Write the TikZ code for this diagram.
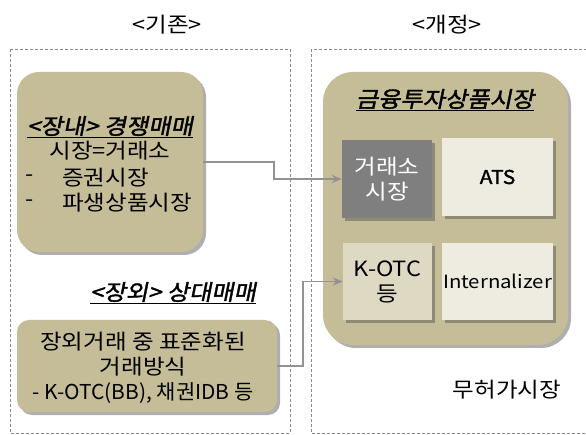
\documentclass[tikz,border=0pt]{standalone}
\usepackage{fontspec}
\setmainfont{Noto Sans CJK KR}[FakeStretch=1.12]
\newfontfamily\krslant{Noto Sans CJK KR}[FakeStretch=1.1,FakeSlant=0.2,FakeBold=1.6]
\newfontfamily\krbold{Noto Sans CJK KR}[FakeStretch=1.1,FakeBold=1.8]
\newfontfamily\krnarrow{Noto Sans CJK KR}[FakeStretch=1.02]
\usetikzlibrary{arrows.meta,shadows}
\definecolor{khaki}{HTML}{C4BD97}
\definecolor{pale}{HTML}{EEECE1}
\definecolor{mid}{HTML}{DDD9C3}
\definecolor{darkbox}{HTML}{7F7F7F}
\definecolor{frameline}{HTML}{8A8A8A}
\definecolor{conn}{HTML}{929292}
\tikzset{
  frame/.style={draw=frameline,dashed,dash pattern=on 3pt off 2pt,line width=0.8pt},
  shad/.style={drop shadow={shadow xshift=3pt,shadow yshift=-3pt,opacity=0.45,fill=black!70}},
  khakibox/.style={fill=khaki,shad,inner sep=0pt},
  inbox/.style={inner sep=0pt,align=center,shad,font=\fontsize{21}{25}\selectfont},
  txt/.style={inner sep=0pt,font=\fontsize{21}{25}\selectfont},
  headtxt/.style={inner sep=0pt,font=\fontsize{22}{25}\krslant},
  conline/.style={draw=conn,line width=1.6pt,-{Stealth[length=10pt,width=8pt]}}
}
\begin{document}
\begin{tikzpicture}[x=1pt,y=-1pt]
\clip (0,0) rectangle (586,435);
\fill[white] (0,0) rectangle (586,435);
% titles
\node[txt] (t1) at (167,25) {<기존>};
\node[txt] (t2) at (447,25) {<개정>};
% frames
\draw[frame] (10,49) rectangle (290,433);
\draw[frame] (311,49) rectangle (600,433);
% left boxes
\node[khakibox,rounded corners=22pt,minimum width=186pt,minimum height=180pt] (b1) at (110,162) {};
\node[headtxt] (b1h) at (110,127) {\underline{<장내> 경쟁매매}};
\node[txt] (b1a) at (110,151) {시장=거래소};
\node[txt] (b1d1) at (30,178) {-};
\node[txt,anchor=west] (b1b) at (62,178) {증권시장};
\node[txt] (b1d2) at (30,203) {-};
\node[txt,anchor=west] (b1c) at (62,203) {파생상품시장};
\node[headtxt] (l2) at (173,293) {\underline{<장외> 상대매매}};
\node[khakibox,rounded corners=12pt,minimum width=260pt,minimum height=92pt] (b2) at (147,366) {};
\node[txt,align=center] (b2t) at (143,368) {장외거래 중 표준화된\\거래방식\\{\krnarrow\fontsize{20.5}{25}\selectfont - K-OTC(BB), 채권IDB 등}};
% right big box
\node[khakibox,rounded corners=30pt,minimum width=245pt,minimum height=273pt] (big) at (445.5,208.5) {};
\node[headtxt] (bigt) at (445,100) {\underline{금융투자상품시장}};
\node[inbox,fill=darkbox,text=white,minimum width=90pt,minimum height=78pt] (ex) at (387,179) {거래소\\시장};
\node[inbox,fill=pale,minimum width=111pt,minimum height=78pt,font=\fontsize{19}{24}\krbold] (ats) at (497.5,177) {ATS};
\node[inbox,fill=mid,minimum width=89pt,minimum height=77pt] (kotc) at (387.5,281.5) {K-OTC\\등};
\node[inbox,fill=pale,minimum width=111pt,minimum height=77pt,font=\fontsize{18.2}{24}\selectfont] (intz) at (497.5,281.5) {Internalizer};
\node[txt] (nl) at (507,390) {무허가시장};
% connectors
\draw[conline] (b1.east) -- (274,162) |- (ex.west);
\draw[conline] (b2.east) -- (303,366) |- (kotc.west);
\end{tikzpicture}
\end{document}
